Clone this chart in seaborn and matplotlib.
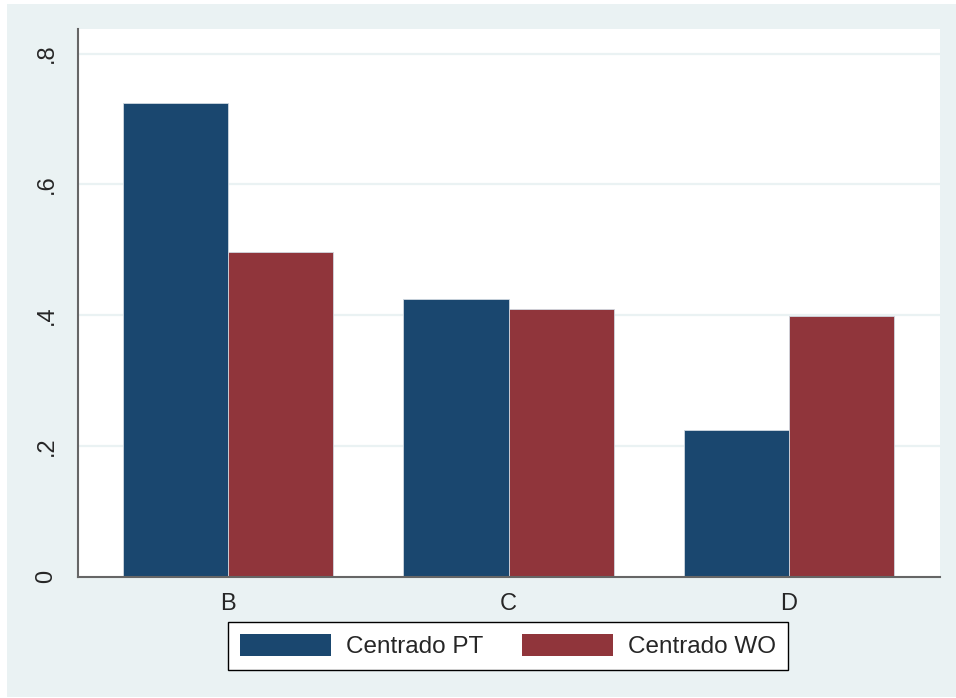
import pandas as pd
import numpy as np
import matplotlib
matplotlib.use("Agg")
import matplotlib.pyplot as plt
from matplotlib.patches import Rectangle
import seaborn as sns

# bar heights
categories = ["B", "C", "D"]
series = ["Centrado PT", "Centrado WO"]
centrado_pt = [0.724, 0.4245, 0.2245]
centrado_wo = [0.4964, 0.4092, 0.3979]
yticks = [0, 0.2, 0.4, 0.6, 0.8]
ytick_labels = ["0", ".2", ".4", ".6", ".8"]

navy = "#1a476f"
maroon = "#90353b"
stata_bg = "#eaf2f3"

df = pd.DataFrame({
    "cat": categories * 2,
    "serie": [series[0]] * 3 + [series[1]] * 3,
    "valor": centrado_pt + centrado_wo,
})

sns.set_style("white")
plt.rcParams["font.family"] = ["Liberation Sans", "DejaVu Sans"]

fig = plt.figure(figsize=(9.56, 6.98), dpi=100)
fig.patch.set_facecolor("white")
fig.add_artist(Rectangle((7 / 956, 1 / 698), 949 / 956, 693 / 698,
                         transform=fig.transFigure, facecolor=stata_bg,
                         edgecolor="none", zorder=-10))

ax = fig.add_axes([77.7 / 956, 1 - 576.7 / 698, (940 - 77.7) / 956, (576.7 - 29) / 698])
ax.set_facecolor("white")

sns.barplot(data=df, x="cat", y="valor", hue="serie", palette=[navy, maroon],
            width=0.75, gap=0, saturation=1, ax=ax, legend=False,
            edgecolor="#d0d8e0", linewidth=0.6, zorder=3)

ax.set_xlim(-0.536, 2.538)
ax.set_ylim(0, 0.8375)
ax.set_yticks(yticks)
ax.set_yticklabels(ytick_labels, rotation=90, va="center")
for y in yticks[1:]:
    ax.axhline(y, color=stata_bg, lw=1.6, zorder=1)

ax.set_xlabel("")
ax.set_ylabel("")
for s in ["top", "right"]:
    ax.spines[s].set_visible(False)
for s in ["left", "bottom"]:
    ax.spines[s].set_color("#666666")
    ax.spines[s].set_linewidth(1.5)
    ax.spines[s].set_zorder(4)

ax.tick_params(axis="y", length=7.5, width=1, color="#444444", labelsize=17, pad=7)
ax.tick_params(axis="x", length=0, labelsize=17, pad=12)

handles = [Rectangle((0, 0), 1, 1, facecolor=navy, edgecolor="none"),
           Rectangle((0, 0), 1, 1, facecolor=maroon, edgecolor="none")]
leg = fig.legend(handles, series, loc="center", ncol=2,
                 bbox_to_anchor=(508 / 956, 1 - 646 / 698),
                 fontsize=17.5, frameon=True, fancybox=False, framealpha=1,
                 handlelength=3.75, handleheight=1.0, handletextpad=0.6,
                 columnspacing=1.6, borderpad=0.5)
leg.get_frame().set_edgecolor("black")
leg.get_frame().set_linewidth(1)

fig.savefig("out.png", dpi=100, facecolor=fig.get_facecolor())
